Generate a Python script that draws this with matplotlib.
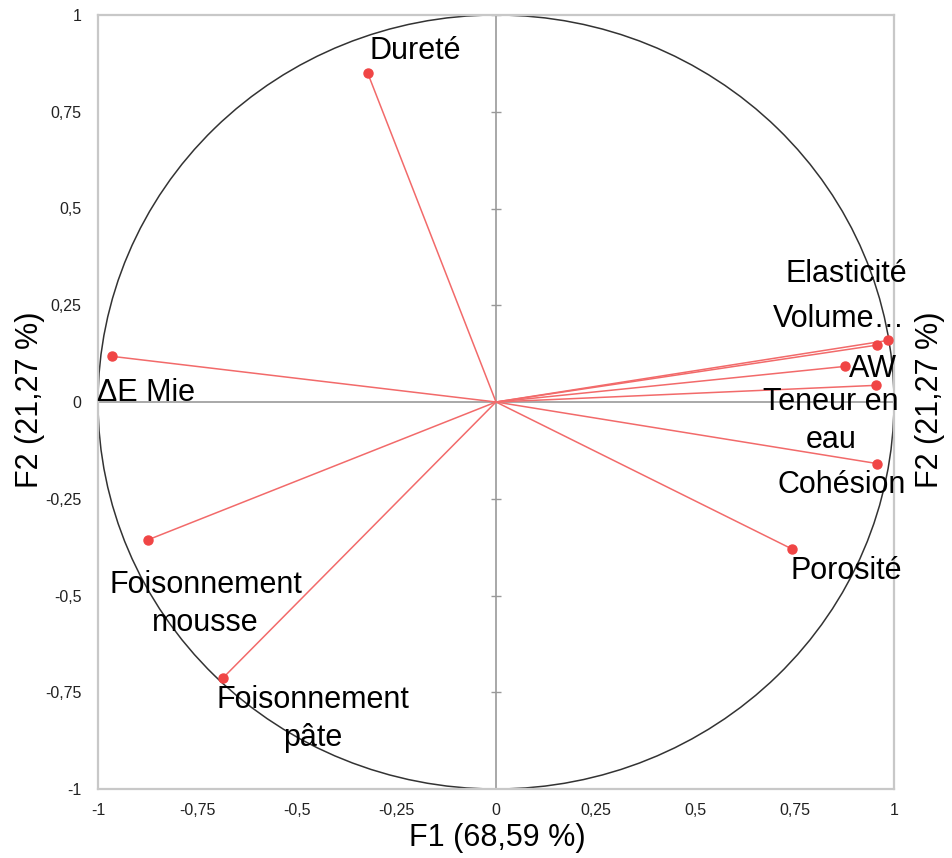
import matplotlib
matplotlib.use("Agg")
from matplotlib import pyplot as plt
from matplotlib.patches import Circle

plt.rcParams['font.family'] = ['Liberation Sans', 'DejaVu Sans']

# variables of the correlation circle (F1, F2 coordinates)
names = ["Dureté", "ΔE Mie", "Foisonnement\nmousse", "Foisonnement\npâte",
         "Elasticité", "Volume…", "AW", "Teneur en\neau", "Cohésion", "Porosité"]
f1 = [-0.322, -0.965, -0.874, -0.685, 0.984, 0.957, 0.877, 0.954, 0.957, 0.744]
f2 = [0.849, 0.118, -0.356, -0.712, 0.159, 0.147, 0.092, 0.043, -0.159, -0.380]

ticks = [-1, -0.75, -0.5, -0.25, 0, 0.25, 0.5, 0.75, 1]
tick_labels = ["-1", "-0,75", "-0,5", "-0,25", "0", "0,25", "0,5", "0,75", "1"]

# where the labels sit (baseline centre of first line)
label_xy = [(-0.204, 0.887), (-0.879, 0.003), (-0.730, -0.494), (-0.461, -0.791),
            (0.879, 0.310), (0.862, 0.194), (0.947, 0.065), (0.842, -0.021),
            (0.869, -0.236), (0.879, -0.458)]

fig = plt.figure(figsize=(9.53, 8.58), dpi=100)
ax = fig.add_axes([98/953, 1-789/858, 796/953, 774/858])
ax.set_xlim(-1, 1)
ax.set_ylim(-1, 1)

for s in ax.spines.values():
    s.set_color("#c8c8c8")
    s.set_linewidth(1.6)

ax.axhline(0, color="#999999", lw=1.2, zorder=1)
ax.axvline(0, color="#999999", lw=1.2, zorder=1)
# little tick crosses on the vertical zero line only
ax.plot([0]*len(ticks), ticks, ls="none", marker="_", ms=7, color="#999999", mew=1)

ax.add_patch(Circle((0, 0), 1, fill=False, ec="#333333", lw=1.1, zorder=2))

for x, y in zip(f1, f2):
    ax.plot([0, x], [0, y], color="#f26a6a", lw=1.1, zorder=3)
ax.plot(f1, f2, ls="none", marker="o", ms=6.5, color="#f04545", zorder=4)

for name, (tx, ty) in zip(names, label_xy):
    for i, line in enumerate(name.split("\n")):
        ax.annotate(line, xy=(tx, ty), xytext=(0, -i*38), textcoords="offset pixels",
                    ha="center", va="baseline", fontsize=22, color="black", zorder=5)

ax.set_xticks(ticks)
ax.set_xticklabels(tick_labels)
ax.set_yticks(ticks)
ax.set_yticklabels(tick_labels)
ax.tick_params(length=0, labelsize=11.5, colors="#222222")
ax.tick_params(axis="x", pad=10)
ax.tick_params(axis="y", pad=12)

fig.text(497/953, 1-838/858, "F1 (68,59 %)", ha="center", va="center", fontsize=22)
fig.text(30/953, 1-400/858, "F2 (21,27 %)", ha="center", va="center", fontsize=22, rotation=90)
fig.text(930/953, 1-400/858, "F2 (21,27 %)", ha="center", va="center", fontsize=22, rotation=90)

fig.savefig("out.png", dpi=100)
